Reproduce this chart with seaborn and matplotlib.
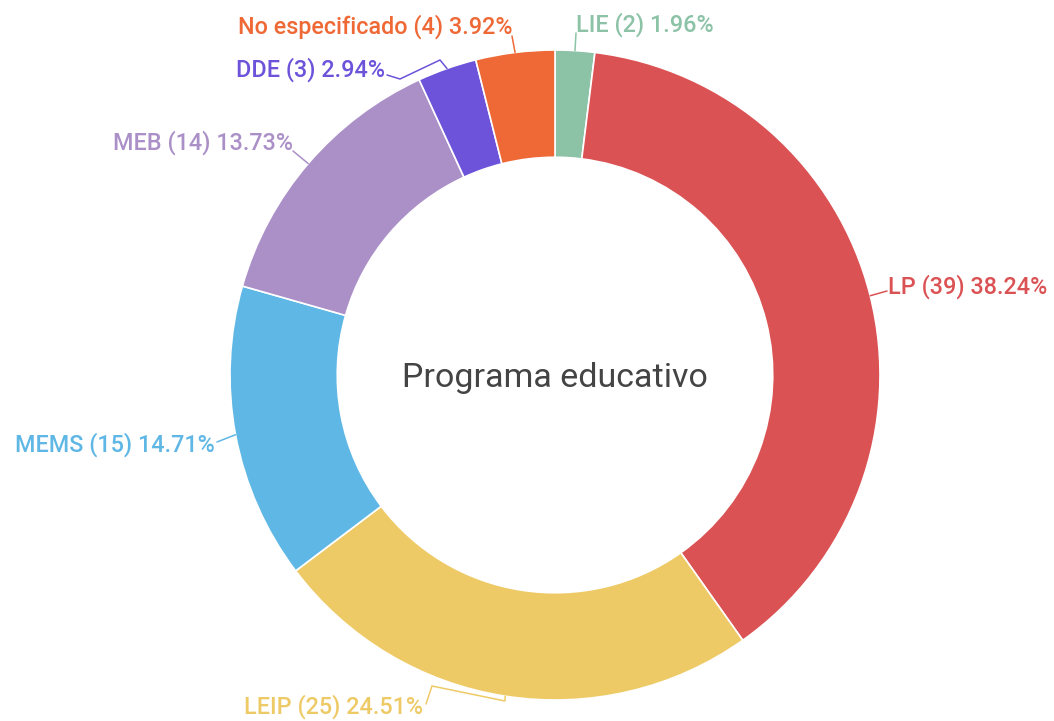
import numpy as np
import seaborn as sns
import matplotlib.pyplot as plt

# Datos del grafico (orden en sentido horario desde arriba)
programas = ['LIE', 'LP', 'LEIP', 'MEMS', 'MEB', 'DDE', 'No especificado']
cantidades = [2, 39, 25, 15, 14, 3, 4]
colores = ['#8CC2A6', '#DB5254', '#EECA67', '#5FB7E5', '#AB90C8', '#6C53DA', '#EE6936']
titulo_centro = 'Programa educativo'

sns.set_theme(style='white')
plt.rcParams['font.family'] = ['Roboto', 'DejaVu Sans']

W, H = 1054, 721
CX, CY, R = 555, 375, 325  # centro y radio en pixeles


def px(x, y):
    # pixel -> coordenadas de datos (radio 1)
    return (x - CX) / R, (CY - y) / R


fig = plt.figure(figsize=(W / 100, H / 100), dpi=100)
ax = fig.add_axes([0, 0, 1, 1])

pal = sns.color_palette(colores)
wedges, _ = ax.pie(cantidades, colors=pal, startangle=90, counterclock=False,
                   radius=1, wedgeprops=dict(width=0.33, edgecolor='white', linewidth=1.2))

ax.set_xlim(px(0, 0)[0], px(W, 0)[0])
ax.set_ylim(px(0, H)[1], px(0, 0)[1])
ax.set_aspect('equal')
ax.axis('off')

total = sum(cantidades)
# posicion del texto (pixel), alineacion y codos de la linea guia (pixel)
etiquetas = {
    'LIE': ((576, 25), 'left', [(576, 33)]),
    'LP': ((888, 287), 'left', [(887, 291)]),
    'LEIP': ((244, 707), 'left', [(505, 701), (432, 686), (426, 704)]),
    'MEMS': ((215, 445), 'right', [(217, 442)]),
    'MEB': ((293, 143), 'right', [(293, 151)]),
    'DDE': ((385, 70), 'right', [(440, 60), (400, 79), (387, 75)]),
    'No especificado': ((512, 27), 'right', [(512, 36)]),
}

for w, nombre, n, c in zip(wedges, programas, cantidades, pal):
    ang = np.deg2rad((w.theta1 + w.theta2) / 2)
    ancla = (np.cos(ang), np.sin(ang))
    (tx, ty), ha, codos = etiquetas[nombre]
    pts = [ancla] + [px(*p) for p in codos]
    ax.plot([p[0] for p in pts], [p[1] for p in pts], color=c, lw=1.1,
            solid_joinstyle='miter')
    ax.text(*px(tx, ty), f'{nombre} ({n}) {n / total * 100:.2f}%', color=c,
            ha=ha, va='center', fontsize=16.8, fontweight='medium')

ax.text(*px(CX, 378), titulo_centro, ha='center', va='center',
        fontsize=24.5, color='#444444')

fig.savefig('out.png', dpi=100)
